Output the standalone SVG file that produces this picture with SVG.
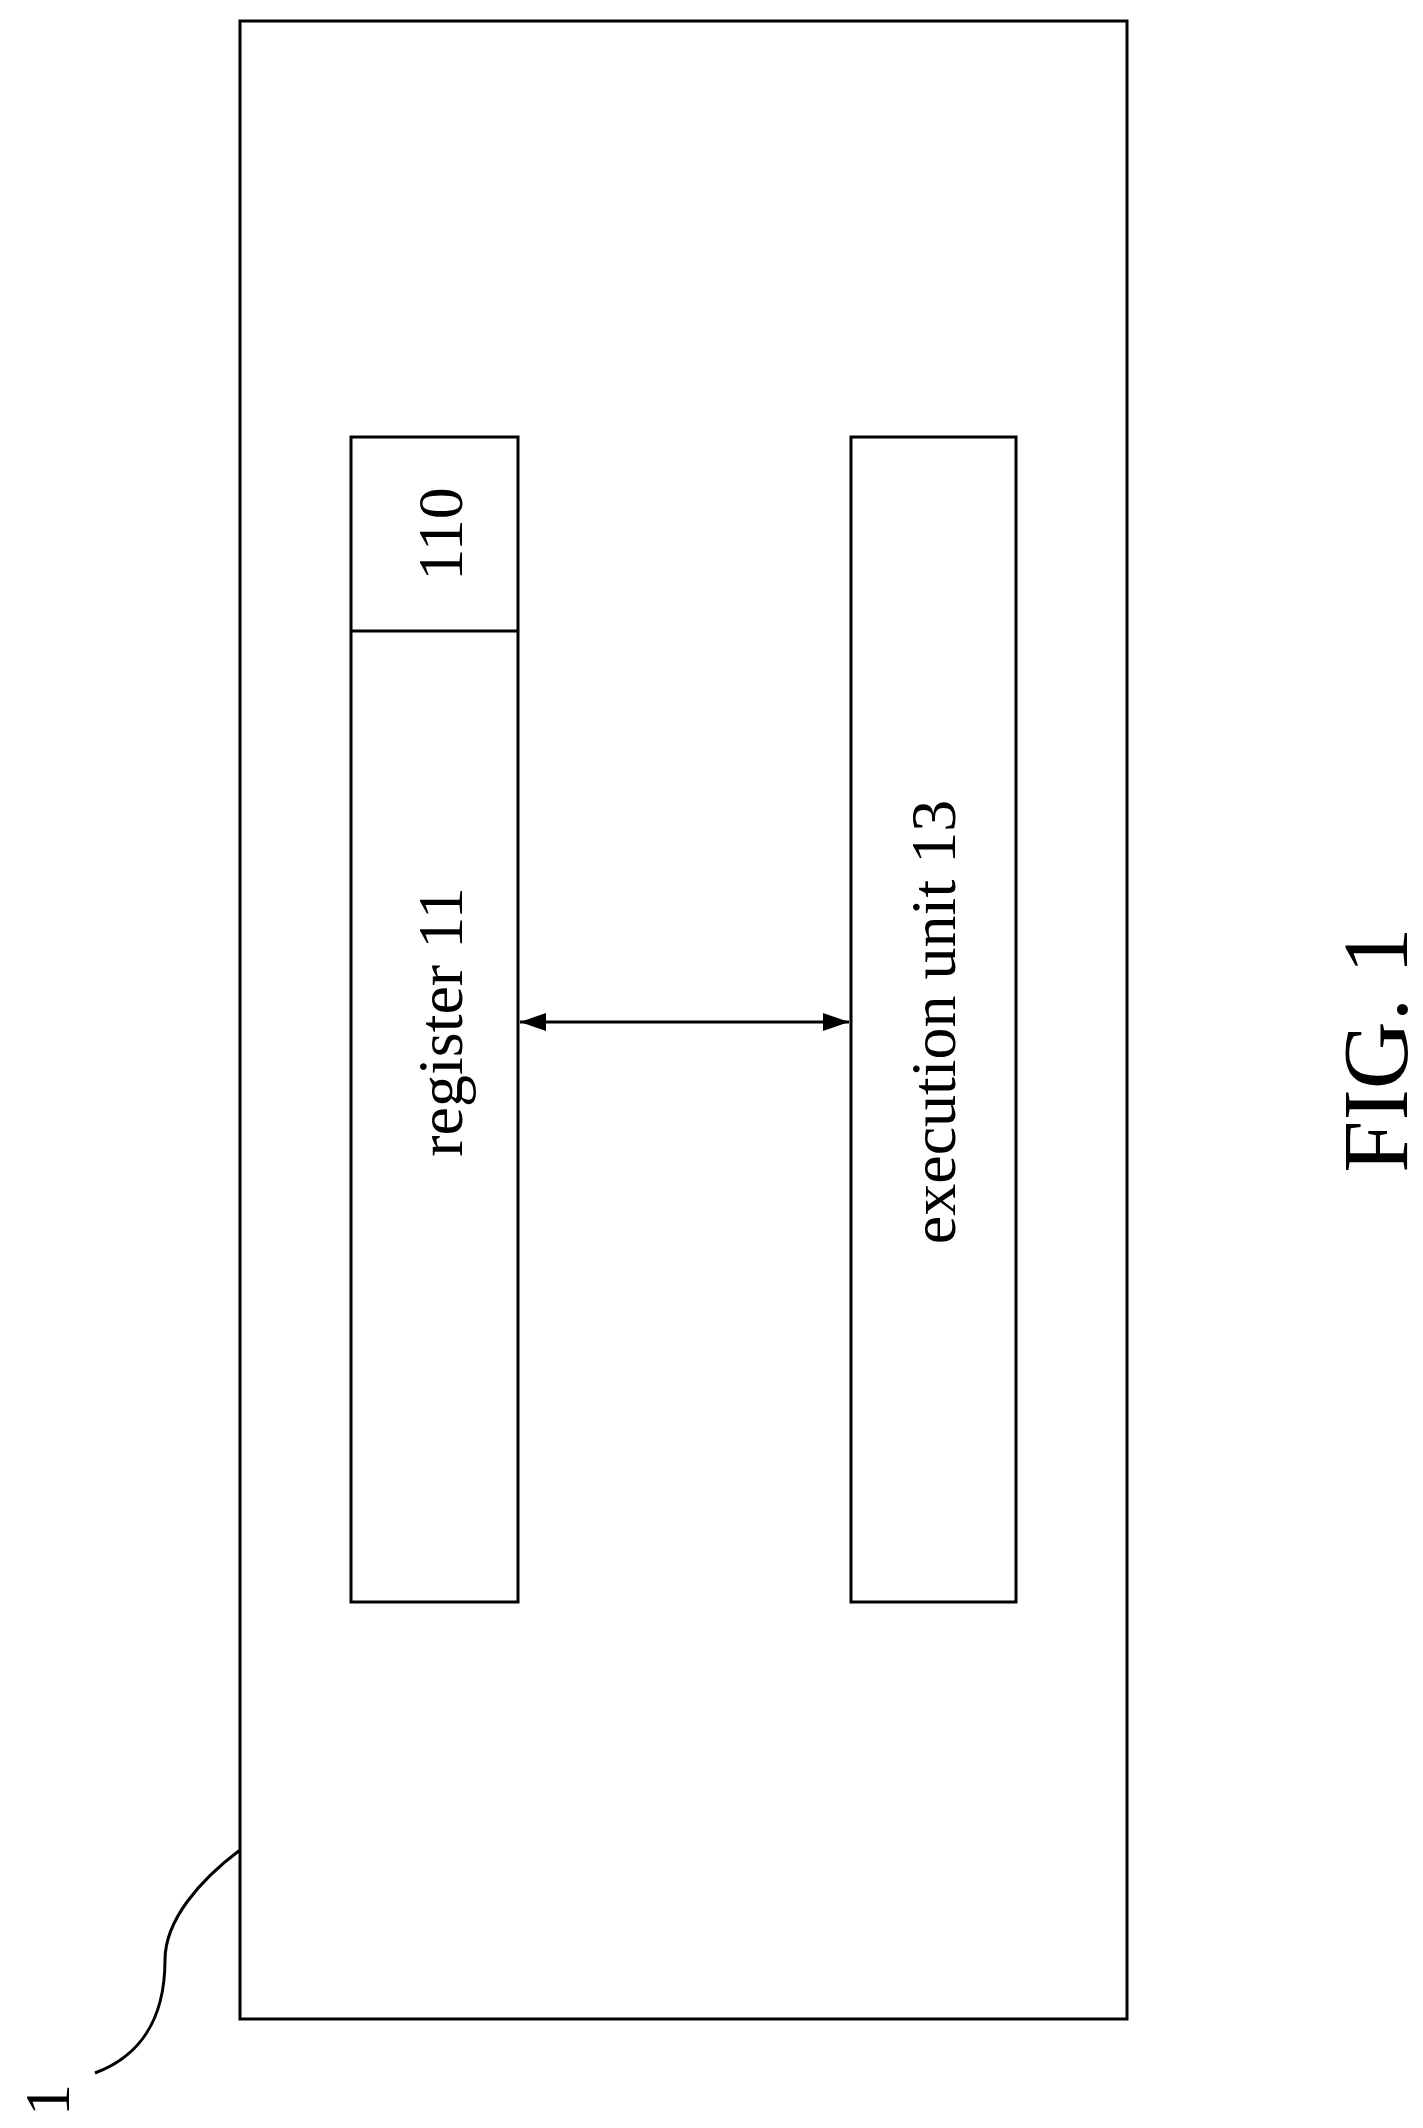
<svg xmlns="http://www.w3.org/2000/svg" width="1423" height="2128" viewBox="0 0 1423 2128">
<style>
.b{fill:none;stroke:#000;stroke-width:3}
.t{font-family:"Liberation Serif","Times New Roman",serif;font-size:64px;fill:#000;text-anchor:middle;dominant-baseline:central}
</style>
<defs><marker id="a" viewBox="0 0 26 18" refX="26" refY="9" markerWidth="26" markerHeight="18" orient="auto-start-reverse" markerUnits="userSpaceOnUse"><path d="M0,0 L26,9 L0,18 z" fill="#000"/></marker></defs>
<rect width="1423" height="2128" fill="#fff"/>
<g id="device"><rect class="b" x="240" y="21" width="887" height="1998"/></g>
<g id="register"><rect class="b" x="351" y="437" width="167" height="1165"/><line class="b" x1="351" y1="631" x2="518" y2="631"/>
<text class="t" transform="translate(440,534) rotate(-90)">110</text>
<text class="t" transform="translate(440,1022) rotate(-90)">register 11</text></g>
<g id="exec"><rect class="b" x="851" y="437" width="165" height="1165"/>
<text class="t" transform="translate(933,1022) rotate(-90)">execution unit 13</text></g>
<g id="connectors"><line x1="520" y1="1022" x2="849" y2="1022" stroke="#000" stroke-width="3" marker-start="url(#a)" marker-end="url(#a)"/>
<path class="b" d="M240,1850 C200,1880 165,1920 165,1960 C165,2030 130,2060 95,2073"/></g>
<text class="t" transform="translate(47,2100) rotate(-90)">1</text>
<text class="t" style="font-size:94px" transform="translate(1375,1050) rotate(-90)">FIG. 1</text>
</svg>
